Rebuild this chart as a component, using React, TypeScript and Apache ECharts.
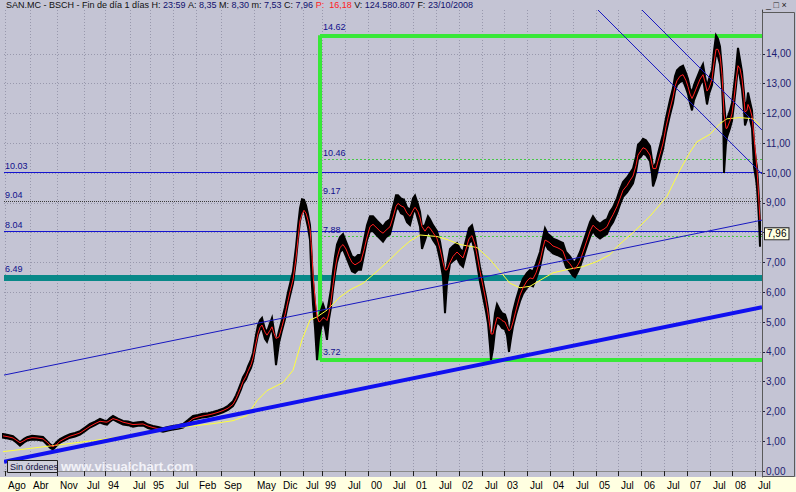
import { useEffect, useRef } from 'react';
import * as echarts from 'echarts';

// time index (bar position) of each sample of the price path
const t = [3,8,13,17,20,24,27,32,37,43,47,50,53,57,60,65,70,75,80,85,90,95,100,104,107,110,113,118,123,128,133,138,143,148,153,158,163,168,173,178,183,188,193,198,203,208,213,218,223,228,233,236,238,241,243,246,248,251,253,256,258,260,262,265,267,270,272,274,276,279,282,285,288,290,293,296,298,300,302,304,306,308,310,311,312,313,315,317,319,321,323,325,327,329,331,333,335,337,340,343,346,349,352,355,358,361,364,367,370,373,377,380,383,386,390,393,396,398,401,404,407,410,413,415,418,420,422,425,428,430,433,437,440,443,445,447,450,453,457,460,463,466,469,472,475,477,480,483,486,488,490,491,493,495,497,500,502,505,507,509,511,513,516,520,523,527,530,533,536,540,543,545,548,550,553,557,560,563,566,570,573,575,578,580,584,587,590,593,596,600,604,607,610,613,617,620,623,627,630,633,636,638,641,643,646,650,652,653,656,658,661,663,666,668,670,673,675,677,680,683,686,688,690,692,694,697,700,703,705,707,709,712,714,716,718,720,722,723,724,726,727,730,732,734,736,738,740,742,744,745,747,748,750,752,754,756,757,758,759,760];
const lo = [1.12,1.09,1.05,0.94,0.85,0.96,1.02,1.06,1.05,1.02,0.89,0.78,0.72,0.86,0.95,1.04,1.12,1.16,1.22,1.34,1.46,1.54,1.63,1.58,1.56,1.66,1.73,1.64,1.56,1.54,1.49,1.52,1.53,1.44,1.39,1.36,1.32,1.36,1.39,1.42,1.46,1.59,1.73,1.76,1.8,1.82,1.86,1.91,1.97,2.05,2.18,2.36,2.5,2.74,2.93,3.08,3.25,3.46,3.68,4.24,4.57,4.74,4.8,4.44,4.34,4.64,4.8,4.3,3.55,4.3,4.72,5.1,5.6,5.88,6.3,7.08,7.78,8.38,8.68,8.78,8.48,8.18,7.75,6.9,6.2,5.6,4.8,3.72,4.45,4.8,5.0,4.8,4.4,5.1,5.5,6.1,6.6,7.0,7.35,7.45,7.2,6.95,6.7,6.65,6.75,6.75,7.25,7.75,8.05,8.05,7.9,7.8,7.7,7.85,7.95,8.35,8.75,8.85,8.65,8.6,8.35,8.25,8.65,8.8,8.45,8.2,7.45,7.75,8.05,7.95,7.75,7.55,7.1,6.5,5.3,6.3,6.95,7.05,7.15,6.95,6.85,7.25,7.65,7.75,7.35,6.95,6.35,5.85,5.35,4.95,4.2,3.72,4.1,4.7,5.0,4.9,4.8,4.75,4.55,4.0,4.45,4.85,5.25,5.7,5.95,6.15,6.25,6.2,6.45,6.85,7.35,7.65,7.45,7.4,7.3,7.25,7.2,7.15,6.85,6.7,6.55,6.5,6.7,6.85,7.25,7.55,7.85,8.05,7.9,7.8,7.9,7.95,8.2,8.35,8.65,8.95,9.2,9.35,9.5,9.65,10.05,10.45,10.55,10.65,10.6,10.4,9.95,9.55,9.85,10.15,10.55,10.8,11.35,11.65,11.95,12.35,12.75,12.95,13.05,13.1,12.85,12.65,12.35,12.1,12.45,12.7,12.95,13.15,12.75,12.3,12.65,12.95,13.5,14.0,13.9,13.65,12.9,12.2,10.0,11.0,11.2,11.5,11.75,12.3,12.9,13.6,13.2,12.8,12.1,11.6,11.8,12.1,11.8,11.5,10.2,9.8,9.5,9.0,8.4,7.53];
const hi = [1.24,1.21,1.17,1.06,0.97,1.08,1.14,1.18,1.17,1.14,1.01,0.9,0.84,0.98,1.07,1.16,1.24,1.28,1.34,1.46,1.58,1.66,1.75,1.7,1.68,1.78,1.85,1.76,1.68,1.66,1.61,1.64,1.65,1.56,1.51,1.48,1.44,1.48,1.51,1.54,1.58,1.71,1.85,1.88,1.92,1.94,1.98,2.03,2.09,2.19,2.34,2.54,2.7,2.96,3.15,3.32,3.51,3.74,3.96,4.56,4.89,5.06,5.14,4.76,4.66,4.96,5.14,4.7,4.3,4.7,5.08,5.5,6.0,6.28,6.7,7.52,8.22,8.82,9.12,9.1,8.92,8.62,8.25,7.7,7.0,6.4,5.6,4.9,5.15,5.4,5.6,5.4,5.3,5.7,6.1,6.7,7.2,7.6,7.85,7.95,7.7,7.45,7.2,7.15,7.25,7.25,7.75,8.25,8.55,8.55,8.4,8.3,8.2,8.35,8.45,8.85,9.25,9.25,9.15,9.1,8.85,8.75,9.15,9.25,8.95,8.7,8.2,8.25,8.55,8.45,8.25,8.05,7.7,7.1,6.6,6.9,7.45,7.55,7.65,7.45,7.35,7.75,8.15,8.25,7.85,7.45,6.85,6.35,5.85,5.45,4.8,4.3,4.7,5.3,5.6,5.4,5.3,5.25,5.05,4.6,4.95,5.35,5.75,6.2,6.45,6.65,6.75,6.7,6.95,7.35,7.85,8.15,7.95,7.9,7.8,7.75,7.7,7.65,7.35,7.2,7.05,7.0,7.2,7.35,7.75,8.05,8.35,8.55,8.4,8.3,8.4,8.45,8.7,8.85,9.15,9.45,9.7,9.85,10.0,10.15,10.55,10.95,11.05,11.15,11.1,10.9,10.45,10.15,10.35,10.65,11.05,11.3,11.85,12.15,12.45,12.85,13.25,13.45,13.55,13.6,13.35,13.15,12.85,12.7,12.95,13.2,13.45,13.65,13.25,12.9,13.15,13.45,14.1,14.62,14.5,14.25,13.5,12.8,12.4,11.6,11.8,12.1,12.35,12.9,13.5,14.2,13.8,13.4,12.7,12.2,12.4,12.7,12.4,12.1,11.0,10.4,10.2,9.7,9.1,8.35];
const red = [1.18,1.15,1.11,1.02,0.95,1.02,1.08,1.12,1.11,1.08,0.97,0.87,0.82,0.9,1.0,1.09,1.17,1.22,1.28,1.39,1.5,1.59,1.67,1.65,1.64,1.7,1.76,1.71,1.64,1.6,1.56,1.57,1.58,1.51,1.46,1.42,1.39,1.41,1.45,1.48,1.52,1.63,1.76,1.81,1.85,1.88,1.92,1.97,2.03,2.11,2.24,2.42,2.58,2.82,3.0,3.18,3.35,3.57,3.8,4.3,4.62,4.82,4.9,4.66,4.56,4.72,4.84,4.62,4.45,4.5,4.85,5.25,5.72,6.02,6.42,7.15,7.8,8.4,8.62,8.75,8.65,8.42,8.1,7.7,7.2,6.6,5.8,5.2,5.0,5.05,5.15,5.12,5.05,5.3,5.7,6.25,6.75,7.15,7.5,7.6,7.45,7.2,7.0,6.92,6.98,7.05,7.42,7.85,8.2,8.28,8.15,8.05,7.98,8.08,8.2,8.52,8.88,8.98,8.9,8.85,8.65,8.55,8.75,8.85,8.7,8.5,8.2,8.05,8.2,8.15,8.0,7.8,7.45,7.0,6.75,6.75,7.0,7.2,7.35,7.25,7.15,7.45,7.8,7.9,7.6,7.25,6.7,6.2,5.7,5.3,4.8,4.6,4.6,4.9,5.15,5.12,5.05,5.0,4.85,4.7,4.78,5.0,5.4,5.9,6.15,6.38,6.48,6.45,6.65,7.05,7.5,7.75,7.7,7.65,7.55,7.5,7.45,7.38,7.1,6.95,6.8,6.78,6.92,7.05,7.45,7.75,8.05,8.25,8.15,8.05,8.12,8.2,8.42,8.6,8.88,9.15,9.42,9.58,9.75,9.9,10.25,10.6,10.75,10.85,10.8,10.6,10.3,10.15,10.15,10.4,10.75,11.0,11.55,11.85,12.15,12.55,12.9,13.1,13.25,13.3,13.1,12.9,12.65,12.5,12.65,12.9,13.15,13.3,13.05,12.75,12.85,13.15,13.7,14.15,14.15,13.95,13.3,12.7,12.0,11.5,11.5,11.75,12.0,12.5,13.1,13.6,13.5,13.15,12.5,12.05,12.1,12.3,12.15,11.9,11.2,10.5,10.1,9.6,9.0,8.4];

// long moving average (yellow)
const ty = [3,50,100,133,160,187,213,233,247,257,267,283,293,302,310,317,327,340,350,363,377,390,400,410,420,437,447,460,477,490,500,510,520,530,540,553,567,583,597,610,617,633,650,667,680,690,697,710,720,727,740,753,760];
const yel = [0.65,0.84,1.05,1.22,1.38,1.49,1.59,1.69,1.86,2.36,2.7,2.97,3.38,4.4,5.07,5.17,5.4,5.84,6.08,6.3,6.7,7.1,7.43,7.72,7.92,7.87,7.77,7.6,7.5,7.1,6.7,6.3,6.15,6.2,6.4,6.65,6.76,6.86,7.03,7.26,7.53,8.0,8.55,9.22,10.1,10.7,11.05,11.3,11.66,11.82,11.86,11.82,11.6];

// x-axis ticks
const tickPos = [5,30,57,84,105,130,150,173,196,221,254,280,303,322,345,368,390,413,436,459,482,504,527,550,573,596,618,641,664,687,710,732,755];
const tickTxt = ['Ago','Abr','Nov','Jul','94','Jul','95','Jul','Feb','Sep','May','Dic','Jul','99','Jul','00','Jul','01','Jul','02','Jul','03','Jul','04','Jul','05','Jul','06','Jul','07','Jul','08','Jul'];
const yTicks = [0,1,2,3,4,5,6,7,8,9,10,11,12,13,14];

// drawn levels
const blueLevels = [10.03, 8.04];
const dotLevel = 9.04;
const tealLevel = 6.49;
const fibTop = 14.62;
const fibBottom = 3.72;
const fibMid = [10.46, 7.88];
const fibHalf = 9.17;
const fibStart = 320;
const trendThick = [[4, 0.31], [762, 5.5]];
const trendThin = [[4, 3.22], [762, 8.42]];
const diagA = [[598, 15.47], [762, 9.97]];
const diagB = [[642, 15.47], [762, 11.44]];
const lastClose = 7.96;

const X0 = 4, X1 = 762;
const FONT = 'Liberation Sans, Arial, sans-serif';

function seg(a: number[], b: number[], lineStyle: any, name = '', lab: any = {}) {
  return { name, coords: [a, b], lineStyle: { opacity: 1, curveness: 0, ...lineStyle }, label: { show: !!name, ...lab } };
}

export default function App() {
  const ref = useRef<HTMLDivElement>(null);
  useEffect(() => {
    if (!ref.current) return;
    const chart = echarts.init(ref.current, undefined, { renderer: 'svg' });
    const fmt = (v: number) => v.toFixed(2);
    const under = [
      ...blueLevels.map(v => seg([X0, v], [X1, v], { color: '#1414d0', width: 1 }, fmt(v), { distance: [1, 2] })),
      seg([X0, dotLevel], [X1, dotLevel], { color: '#3a3a3a', width: 1, type: [1, 1] }, fmt(dotLevel), { distance: [1, 2] }),
      seg([X0, tealLevel], [X1, tealLevel], { color: '#088888', width: 6 }, fmt(tealLevel), { distance: [1, 4] }),
      seg([fibStart, fibBottom], [fibStart, fibTop], { color: '#38e838', width: 4 }),
      seg([fibStart, fibTop], [X1, fibTop], { color: '#38e838', width: 4 }, fmt(fibTop), { distance: [3, 4] }),
      seg([fibStart, fibBottom], [X1, fibBottom], { color: '#38e838', width: 4 }, fmt(fibBottom), { distance: [3, 4] }),
      ...fibMid.map(v => seg([fibStart, v], [X1, v], { color: '#48c848', width: 1, type: [2, 2] }, fmt(v), { distance: [3, 2] })),
      seg([fibStart, fibHalf], [X1, fibHalf], { color: '#7a7a7a', width: 1, type: [1, 2] }, fmt(fibHalf), { distance: [3, 2] }),
    ];
    const over = [
      seg(trendThick[0], trendThick[1], { color: '#1010f0', width: 4 }),
      seg(trendThin[0], trendThin[1], { color: '#1818c0', width: 1 }),
      seg(diagA[0], diagA[1], { color: '#1818c0', width: 1 }),
      seg(diagB[0], diagB[1], { color: '#1818c0', width: 1 }),
    ];
    const closeTag = [
      seg([X1 - 1, lastClose], [X1, lastClose], { color: '#404040', width: 1 }, lastClose.toFixed(2).replace('.', ',')),
    ];
    const option: any = {
      animation: false,
      grid: { left: X0, right: 796 - X1, top: 10, bottom: 15, show: true, backgroundColor: '#c4c4d4', borderWidth: 0 },
      xAxis: {
        type: 'value', min: X0, max: X1,
        axisLine: { show: true, lineStyle: { color: '#8a8a8a' } },
        axisTick: { show: true, customValues: tickPos, length: 5, lineStyle: { color: '#202020' } },
        axisLabel: {
          customValues: tickPos, formatter: (v: number) => tickTxt[tickPos.indexOf(v)] ?? '',
          align: 'left', margin: 3, padding: [0, 0, 0, 3], fontSize: 10, color: '#000', fontFamily: FONT,
        },
        splitLine: { show: true, lineStyle: { type: [1, 2], color: '#9898ac' } },
      },
      yAxis: {
        type: 'value', position: 'right', min: -0.2, max: 15.47,
        axisLine: { show: true, lineStyle: { color: '#404040' } },
        axisTick: { show: true, customValues: yTicks, length: 3, lineStyle: { color: '#202040' } },
        axisLabel: { customValues: yTicks, formatter: (v: number) => v.toFixed(2).replace('.', ','), color: '#1c1c70', fontSize: 10, margin: 4, fontFamily: FONT },
        splitLine: { show: true, lineStyle: { type: [1, 2], color: '#9898ac' } },
      },
      series: [
        {
          type: 'lines', coordinateSystem: 'cartesian2d', z: 2, silent: true, data: under,
          lineStyle: { opacity: 1 },
          label: { position: 'insideStartTop', formatter: '{b}', color: '#10108c', fontSize: 9, fontFamily: FONT },
        },
        {
          name: 'range', type: 'custom', z: 3, silent: true,
          data: [[t[0], lo[0]]],
          renderItem: (_p: any, api: any) => {
            const top = t.map((x, i) => api.coord([x, hi[i]]));
            const bot = t.map((x, i) => api.coord([x, lo[i]])).reverse();
            return {
              type: 'polygon',
              shape: { points: top.concat(bot) },
              style: { fill: '#000', stroke: '#000', lineWidth: 2 },
            };
          },
        },
        {
          name: 'yellow', type: 'line', symbol: 'none', z: 4,
          data: ty.map((x, i) => [x, yel[i]]), lineStyle: { color: '#ffff3c', width: 1 },
        },
        {
          name: 'red', type: 'line', symbol: 'none', z: 5,
          data: t.map((x, i) => [x, red[i]]), lineStyle: { color: '#ff1e1e', width: 1 },
        },
        { type: 'lines', coordinateSystem: 'cartesian2d', z: 6, silent: true, data: over, lineStyle: { opacity: 1 } },
        {
          type: 'lines', coordinateSystem: 'cartesian2d', z: 7, silent: true, clip: false, data: closeTag, lineStyle: { opacity: 1 },
          label: {
            show: true, position: 'end', distance: 3, formatter: '{b}',
            backgroundColor: '#ffffe1', borderColor: '#202020', borderWidth: 1, padding: [1, 2, 0, 2],
            color: '#000', fontSize: 10, fontFamily: FONT,
          },
        },
      ],
      graphic: [
        { type: 'rect', z: -1, shape: { x: 0, y: 477, width: 796, height: 15 }, style: { fill: '#ffffe1' } },
        { type: 'rect', z: 1, shape: { x: 762.5, y: 12.5, width: 32, height: 464 }, style: { fill: 'none', stroke: '#5a5a5a', lineWidth: 1 } },
        {
          type: 'text', x: 6, y: 5, z: 10,
          style: {
            text: '{k|SAN.MC - BSCH - Fin de día 1 días H:} {v|23:59} {k|A:} {v|8,35} {k|M:} {v|8,30} {k|m:} {v|7,53} {k|C:} {v|7,96} {r|P:  16,18} {k|V:} {v|124.580.807} {k|F:} {v|23/10/2008}',
            verticalAlign: 'middle', font: `9px ${FONT}`,
            rich: {
              k: { fill: '#101010', font: `9px ${FONT}` },
              v: { fill: '#10106e', font: `9px ${FONT}` },
              r: { fill: '#ff2020', font: `9px ${FONT}` },
            },
          },
        },
        { type: 'text', x: 766, y: 5, z: 10, style: { text: '_ □ ×', fill: '#202020', font: `9px ${FONT}`, verticalAlign: 'middle' } },
        { type: 'rect', z: 10, shape: { x: 7.5, y: 460.5, width: 50, height: 12 }, style: { fill: '#cfcfdb', stroke: '#202020', lineWidth: 1 } },
        { type: 'text', x: 10, y: 467, z: 11, style: { text: 'Sin órdenes', fill: '#101040', font: `9px ${FONT}`, verticalAlign: 'middle' } },
        { type: 'text', x: 61, y: 466, z: 10, style: { text: 'www.visualchart.com', fill: '#f2f2f8', font: `bold 13px ${FONT}`, verticalAlign: 'middle', textShadowColor: 'rgba(90,90,110,0.6)', textShadowOffsetX: 1, textShadowOffsetY: 1 } },
      ],
    };
    chart.setOption(option);
    return () => chart.dispose();
  }, []);
  return (
    <div
      ref={ref}
      style={{ position: 'fixed', left: 0, top: 0, width: 796, height: 492, background: '#c4c4d4' }}
    />
  );
}
